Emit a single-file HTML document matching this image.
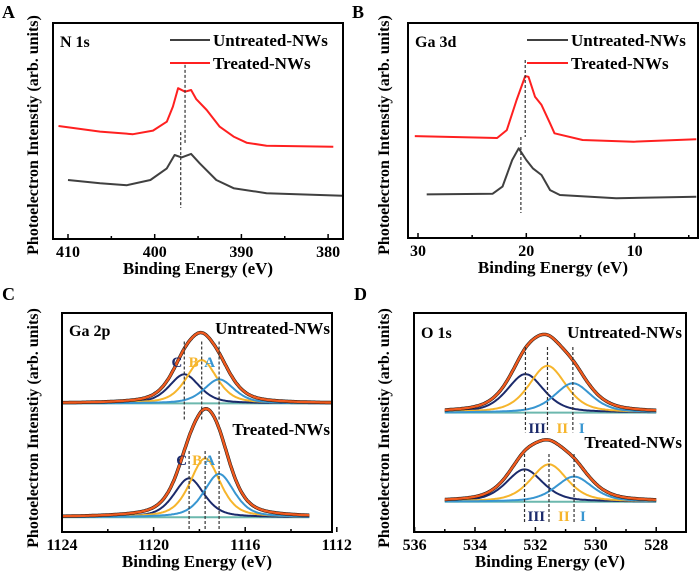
<!DOCTYPE html>
<html><head><meta charset="utf-8"><style>
html,body{margin:0;padding:0;background:#fff;}
svg text{font-family:"Liberation Serif","Times New Roman",serif;font-weight:bold;}
</style></head><body>
<svg id="fig" width="700" height="578" viewBox="0 0 700 578" xmlns="http://www.w3.org/2000/svg" font-family="Liberation Serif, serif" font-weight="bold"></svg>
<script>
// ---- Panel A (N 1s) data ----
const A_un_E = [410,406.3,403.2,400.5,398.6,397.7,396.9,395.8,394.8,392.9,390.9,387.1,378.3];
const A_un_I = [27.3,25.8,24.9,27.3,32.7,38.9,37.8,39.4,35,27.3,23.5,21.2,20];
const A_tr_E = [411.1,406.3,402.5,400.2,398.6,397.9,397.3,396.5,395.8,395.2,394,392.5,390.9,389.4,387.1,379.4];
const A_tr_I = [52.3,49.7,48.5,50.2,54.3,61.3,69.8,68.2,69,64.7,59.7,52,47.4,44.6,43.2,42.7];
const A_ticks = [410,400,390,380];
// ---- Panel B (Ga 3d) data ----
const B_un_E = [29.2,23.1,22.2,21.3,20.7,20.0,19.4,18.6,17.8,16.9,11.7,4.3];
const B_un_I = [20.3,20.6,23.9,36.3,41.7,36.3,32.4,29.3,22.3,20,18.5,19.2];
const B_tr_E = [30.3,22.7,21.8,20.9,20.1,19.8,19.2,18.6,17.8,17.4,14.8,10.1,4.3];
const B_tr_I = [47.4,46.5,50.2,64.2,75.3,75,65.7,61.9,53.3,48.7,45.6,44.8,45.9];
const B_ticks = [30,20,10];
// ---- Panel C (Ga 2p) fit peaks: C, B, A ----
const C_un_center = [1118.66,1117.9,1117.14];
const C_un_amp = [13.3,19.8,11];
const C_un_base = 58.7;
const C_tr_center = [1118.45,1117.75,1117.14];
const C_tr_amp = [17.8,26.9,19.8];
const C_tr_base = 6.7;
const C_labels = ["C","B","A"];
const C_ticks = [1124,1120,1116,1112];
// ---- Panel D (O 1s) fit peaks: III, II, I ----
const D_un_center = [532.33,531.6,530.76];
const D_un_amp = [17.6,21.4,13.4];
const D_un_base = 54.5;
const D_tr_center = [532.36,531.55,530.72];
const D_tr_amp = [14.8,17.1,11.5];
const D_tr_base = 13.8;
const D_labels = ["III","II","I"];
const D_ticks = [536,534,532,530,528];

const NS="http://www.w3.org/2000/svg";
const svg=document.getElementById('fig');
const FONT='"Liberation Serif", "Times New Roman", serif';
function el(tag,attrs,parent){const e=document.createElementNS(NS,tag);for(const k in attrs)e.setAttribute(k,attrs[k]);if(tag==='text'){e.setAttribute('font-family',FONT);e.setAttribute('font-weight','bold');}(parent||svg).appendChild(e);return e;}
const compColors=["#1b2a6b","#f6b52c","#3896d1"];
const envColor="#f05a1e", baseColor="#6cb8ae";

function panel(cfg){
  const g=el('g',{});
  
  
  const xs=E=>cfg.x0+(cfg.E0-E)*cfg.ppu;
  const ys=v=>cfg.by-v*cfg.vpp;
  cfg.xs=xs;cfg.ys=ys;cfg.g=g;
  const step=cfg.ticks[1]-cfg.ticks[0];
  cfg.ticks.forEach((t,i)=>{
    const x=xs(t);
    const tk=el('line',{x1:x,x2:x,y1:cfg.by,y2:cfg.by-5,stroke:'#000','stroke-width':1.5},g);
    
    
    const m=xs(t+step/2);
    if(m>cfg.bx+2&&m<cfg.bx2-2){
      const mt=el('line',{x1:m,x2:m,y1:cfg.by,y2:cfg.by-3,stroke:'#000','stroke-width':1.5},g);
      
      
    }
    const tl=el('text',{x:x,y:cfg.by+18,'font-size':16,'text-anchor':'middle'},g);
    tl.textContent=t;
    
    
  });
  const minorExtra=xs(cfg.ticks[cfg.ticks.length-1]+step/2);
  if(minorExtra>cfg.bx+2&&minorExtra<cfg.bx2-2){
    const mt=el('line',{x1:minorExtra,x2:minorExtra,y1:cfg.by,y2:cfg.by-3,stroke:'#000','stroke-width':1.5},g);
    
    
  }
  const xt=el('text',{x:(cfg.bx+cfg.bx2)/2,y:cfg.by+35,'font-size':17,'text-anchor':'middle'},g);
  xt.textContent='Binding Energy (eV)';
  
  
  const yt=el('text',{x:0,y:0,'font-size':16,'text-anchor':'middle',transform:`translate(${cfg.ytx},${cfg.yty}) rotate(-90)`},g);
  yt.textContent='Photoelectron Intenstiy (arb. units)';
  
  
  const pl=el('text',{x:cfg.lx,y:cfg.ly,'font-size':18},g);
  pl.textContent=cfg.letter;
  
  
  const tt=el('text',{x:cfg.bx+7,y:cfg.ty,'font-size':16},g);
  tt.textContent=cfg.title;
  
  
  return cfg;
}
function frame(cfg){
  const r=el('rect',{x:cfg.bx,y:cfg.ty0,width:cfg.bx2-cfg.bx,height:cfg.by-cfg.ty0,fill:'none',stroke:'#000','stroke-width':2},cfg.g);
  
  
}
function poly(cfg,Es,Is,color,w,name){
  const pts=Es.map((E,i)=>cfg.xs(E).toFixed(1)+','+cfg.ys(Is[i]).toFixed(1)).join(' ');
  const p=el('polyline',{points:pts,fill:'none',stroke:color,'stroke-width':w,'stroke-linejoin':'round'},cfg.g);
  
  
  return p;
}
function dash(cfg,E,v1,v2){
  const x=cfg.xs(E);
  const d=el('line',{x1:x,x2:x,y1:cfg.ys(v1),y2:cfg.ys(v2),stroke:'#333','stroke-width':1.2,'stroke-dasharray':'3,2'},cfg.g);
  
  
}
function legend(cfg,x1,x2,y,color,label){
  const l=el('line',{x1:x1,x2:x2,y1:y,y2:y,stroke:color,'stroke-width':2},cfg.g);
  
  
  const t=el('text',{x:x2+3,y:y+6,'font-size':17},cfg.g);
  t.textContent=label;
  
  
}
function label(cfg,x,y,txt,color,size,name,anchor){
  const t=el('text',{x:x,y:y,'font-size':size,fill:color,'text-anchor':anchor||'start'},cfg.g);
  t.textContent=txt;
  
  
}
function shape(E,c,a,w){const x=(E-c)/w;return a*(0.5*Math.exp(-Math.LN2*x*x)+0.5/(1+x*x));}
function fit(cfg,centers,amps,base,w,Ehi,Elo,name){
  const Es=[];for(let E=Ehi;E>=Elo-1e-9;E-=0.04)Es.push(E);
  poly(cfg,[Ehi,Elo],[base,base],baseColor,2,name+'-baseline');
  centers.forEach((c,k)=>{
    poly(cfg,Es,Es.map(E=>base+shape(E,c,amps[k],w)),compColors[k],2,name+'-component-'+k);
  });
  const env=Es.map(E=>base+centers.reduce((s,c,k)=>s+shape(E,c,amps[k],w),0));
  poly(cfg,Es,env,'#111',3.4,name+'-raw-data');
  poly(cfg,Es,env,envColor,2.4,name+'-envelope');
  return env;
}

// Panel A
const pA=panel({name:'panel-a-n1s',bx:53,bx2:343,ty0:23,by:239,x0:68,E0:410,ppu:8.67,vpp:2.16,ticks:A_ticks,ytx:38,yty:135,lx:2,ly:18,letter:'A',title:'N 1s',ty:47});
poly(pA,A_tr_E,A_tr_I,'#ff2020',2,'treated-nws-line');
poly(pA,A_un_E,A_un_I,'#404040',2,'untreated-nws-line');
dash(pA,396.5,80.6,44.4);
dash(pA,397.0,49.5,14.4);
legend(pA,170,210,40,'#404040','Untreated-NWs');
legend(pA,170,210,63,'#ff2020','Treated-NWs');
frame(pA);

// Panel B
const pB=panel({name:'panel-b-ga3d',bx:408,bx2:698,ty0:23,by:238,x0:418,E0:30,ppu:10.83,vpp:2.15,ticks:B_ticks,ytx:389,yty:135,lx:352,ly:18,letter:'B',title:'Ga 3d',ty:47});
poly(pB,B_tr_E,B_tr_I,'#ff2020',2,'treated-nws-line');
poly(pB,B_un_E,B_un_I,'#404040',2,'untreated-nws-line');
dash(pB,20.1,82.8,47);
dash(pB,20.5,47,11.6);
legend(pB,527,568,40,'#404040','Untreated-NWs');
legend(pB,527,568,63,'#ff2020','Treated-NWs');
frame(pB);

// Panel C
const pC=panel({name:'panel-c-ga2p',bx:62,bx2:332,ty0:313,by:532,x0:62,E0:1124,ppu:22.9,vpp:2.19,ticks:C_ticks,ytx:38,yty:428,lx:2,ly:300,letter:'C',title:'Ga 2p',ty:336});
fit(pC,C_un_center,C_un_amp,C_un_base,0.78,1124,1112.2,'untreated');
fit(pC,C_tr_center,C_tr_amp,C_tr_base,0.78,1124,1113.2,'treated');
C_un_center.forEach(c=>dash(pC,c,87,51));
C_tr_center.forEach(c=>dash(pC,c,37,1));
label(pC,330,334,'Untreated-NWs','#000',17,'untreated-label','end');
label(pC,330,435,'Treated-NWs','#000',17,'treated-label','end');
const cOff=[2,3,4];
C_labels.forEach((t,k)=>label(pC,pC.xs(C_un_center[k])-cOff[k],367,t,compColors[k],15,'peak-label-'+t,'end'));
C_labels.forEach((t,k)=>label(pC,pC.xs(C_tr_center[k])-cOff[k],465,t,compColors[k],15,'peak-label-'+t,'end'));
frame(pC);

// Panel D
const pD=panel({name:'panel-d-o1s',bx:414,bx2:686,ty0:313,by:532,x0:475,E0:534,ppu:30.2,vpp:2.19,ticks:D_ticks,ytx:389,yty:428,lx:354,ly:300,letter:'D',title:'O 1s',ty:338});
fit(pD,D_un_center,D_un_amp,D_un_base,0.72,535,528,'untreated');
fit(pD,D_tr_center,D_tr_amp,D_tr_base,0.72,535,528,'treated');
D_un_center.forEach(c=>dash(pD,c,84.5,45.5));
D_tr_center.forEach(c=>dash(pD,c,35.6,4.1));
label(pD,682,338,'Untreated-NWs','#000',17,'untreated-label','end');
label(pD,682,448,'Treated-NWs','#000',17,'treated-label','end');
const dOff=[3,9,6];
D_labels.forEach((t,k)=>label(pD,pD.xs(D_un_center[k])+dOff[k],433,t,compColors[k],15,'peak-label-'+t));
D_labels.forEach((t,k)=>label(pD,pD.xs(D_tr_center[k])+dOff[k],521,t,compColors[k],15,'peak-label-'+t));
frame(pD);
</script>
</body></html>
